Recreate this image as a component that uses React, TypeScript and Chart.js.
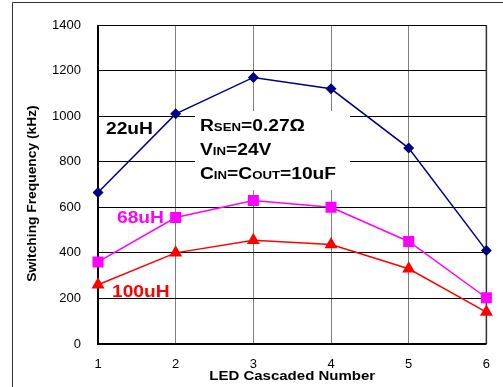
import React, { useEffect, useRef } from 'react';
import { Chart, registerables } from 'chart.js';

Chart.register(...registerables);

// ---- data ----
const categories = ['1', '2', '3', '4', '5', '6'];
const series22uH = [665, 1010, 1170, 1120, 860, 410];
const series68uH = [360, 555, 630, 600, 450, 203];
const series100uH = [260, 400, 455, 437, 330, 140];
const seriesNames = ['22uH', '68uH', '100uH'];
const yMin = 0;
const yMax = 1400;
const yStep = 200;
const xTitle = 'LED Cascaded Number';
const yTitle = 'Switching Frequency (kHz)';
const noteLine1 = [{ t: 'R' }, { t: 'SEN', small: true }, { t: '=0.27Ω' }];
const noteLine2 = [{ t: 'V' }, { t: 'IN', small: true }, { t: '=24V' }];
const noteLine3 = [{ t: 'C' }, { t: 'IN', small: true }, { t: '=C' }, { t: 'OUT', small: true }, { t: '=10uF' }];

const FONT = '"Liberation Sans", Arial, Helvetica, sans-serif';
const NAVY = '#000080';
const MAGENTA = '#FF00FF';
const RED = '#FF0000';

type Part = { t: string; small?: boolean };

function drawParts(
  ctx: CanvasRenderingContext2D,
  parts: Part[],
  x: number,
  y: number,
  scaleX: number,
  color: string,
  big: number,
  small: number
) {
  ctx.save();
  ctx.translate(x, y);
  ctx.scale(scaleX, 1);
  ctx.fillStyle = color;
  ctx.textAlign = 'left';
  ctx.textBaseline = 'alphabetic';
  let cx = 0;
  for (const p of parts) {
    ctx.font = `bold ${p.small ? small : big}px ${FONT}`;
    ctx.fillText(p.t, cx, 0);
    cx += ctx.measureText(p.t).width;
  }
  ctx.restore();
}

const decorPlugin = {
  id: 'decor',
  beforeDatasetsDraw(chart: any) {
    const ctx: CanvasRenderingContext2D = chart.ctx;
    const a = chart.chartArea;
    ctx.save();
    // white box behind the note
    ctx.fillStyle = '#FFFFFF';
    ctx.fillRect(195, 111, 155, 79);
    // plot frame
    ctx.strokeStyle = '#000000';
    ctx.lineWidth = 1;
    ctx.beginPath();
    ctx.moveTo(a.left, a.top + 0.5);
    ctx.lineTo(a.right, a.top + 0.5);
    ctx.stroke();
    ctx.strokeStyle = '#333333';
    ctx.lineWidth = 1.5;
    ctx.beginPath();
    ctx.moveTo(a.right, a.top);
    ctx.lineTo(a.right, a.bottom);
    ctx.stroke();
    ctx.strokeStyle = '#000000';
    ctx.lineWidth = 2;
    ctx.beginPath();
    ctx.moveTo(a.left, a.top);
    ctx.lineTo(a.left, a.bottom);
    ctx.lineTo(a.right, a.bottom);
    ctx.stroke();
    ctx.restore();
  },
  afterDraw(chart: any) {
    const ctx: CanvasRenderingContext2D = chart.ctx;
    const a = chart.chartArea;
    ctx.save();
    // outer frame (left & top)
    ctx.strokeStyle = '#333333';
    ctx.lineWidth = 1;
    ctx.beginPath();
    ctx.moveTo(12.5, 387);
    ctx.lineTo(12.5, 2.5);
    ctx.lineTo(503, 2.5);
    ctx.stroke();

    // x title
    ctx.font = `bold 12px ${FONT}`;
    const xs = 1.25;
    const xw = ctx.measureText(xTitle).width * xs;
    drawParts(ctx, [{ t: xTitle }], (a.left + a.right) / 2 - xw / 2, 380, xs, '#000', 12, 12);

    // y title (rotated)
    ctx.save();
    ctx.translate(32.5, 193.5);
    ctx.rotate(-Math.PI / 2);
    ctx.font = `bold 12px ${FONT}`;
    const ys = 1.15;
    const yw = ctx.measureText(yTitle).width * ys;
    ctx.scale(ys, 1);
    ctx.fillStyle = '#000';
    ctx.textAlign = 'left';
    ctx.textBaseline = 'middle';
    ctx.fillText(yTitle, -yw / 2 / ys, 0);
    ctx.restore();

    // series labels
    drawParts(ctx, [{ t: seriesNames[0] }], 106, 133.5, 1.2, '#000000', 16, 16);
    drawParts(ctx, [{ t: seriesNames[1] }], 117, 223, 1.2, MAGENTA, 16, 16);
    drawParts(ctx, [{ t: seriesNames[2] }], 112, 296.5, 1.2, RED, 16, 16);

    // note
    drawParts(ctx, noteLine1, 200, 131, 1.2, '#000', 16, 11);
    drawParts(ctx, noteLine2, 200, 155, 1.2, '#000', 16, 11);
    drawParts(ctx, noteLine3, 200, 179, 1.2, '#000', 16, 11);
    ctx.restore();
  },
};

export default function App() {
  const ref = useRef<HTMLCanvasElement | null>(null);
  useEffect(() => {
    if (!ref.current) return;
    const chart = new Chart(ref.current, {
      type: 'line',
      data: {
        labels: categories,
        datasets: [
          {
            label: seriesNames[0],
            data: series22uH,
            borderColor: NAVY,
            backgroundColor: NAVY,
            borderWidth: 1.5,
            pointStyle: 'rectRot',
            pointRadius: 5.5,
            pointBorderWidth: 0,
            tension: 0,
          },
          {
            label: seriesNames[1],
            data: series68uH,
            borderColor: MAGENTA,
            backgroundColor: MAGENTA,
            borderWidth: 1.5,
            pointStyle: 'rect',
            pointRadius: 7.8,
            pointBorderWidth: 0,
            tension: 0,
          },
          {
            label: seriesNames[2],
            data: series100uH,
            borderColor: RED,
            backgroundColor: RED,
            borderWidth: 1.5,
            pointStyle: 'triangle',
            pointRadius: 7.5,
            pointBorderWidth: 0,
            tension: 0,
          },
        ],
      },
      options: {
        responsive: false,
        devicePixelRatio: 1,
        animation: false,
        events: [],
        layout: { padding: { left: 12, top: 25, right: 11, bottom: 0 } },
        plugins: { legend: { display: false }, tooltip: { enabled: false } },
        scales: {
          x: {
            type: 'category',
            offset: false,
            afterFit: (s: any) => {
              s.height = 43;
            },
            grid: { color: '#808080', lineWidth: 1, drawTicks: false },
            border: { display: false },
            ticks: {
              padding: 13,
              color: '#000',
              font: { family: FONT, size: 13 },
              maxRotation: 0,
            },
          },
          y: {
            min: yMin,
            max: yMax,
            afterFit: (s: any) => {
              s.width = 86;
            },
            grid: { color: '#000000', lineWidth: 1, drawTicks: false },
            border: { display: false },
            ticks: {
              stepSize: yStep,
              padding: 17,
              color: '#000',
              font: { family: FONT, size: 13 },
              callback: (v: any) => String(v),
            },
          },
        },
      },
      plugins: [decorPlugin],
    });
    return () => chart.destroy();
  }, []);
  return (
    <div style={{ position: 'absolute', left: 0, top: 0, width: 503, height: 387, background: '#fff' }}>
      <canvas ref={ref} width={503} height={387} style={{ display: 'block' }} />
    </div>
  );
}
